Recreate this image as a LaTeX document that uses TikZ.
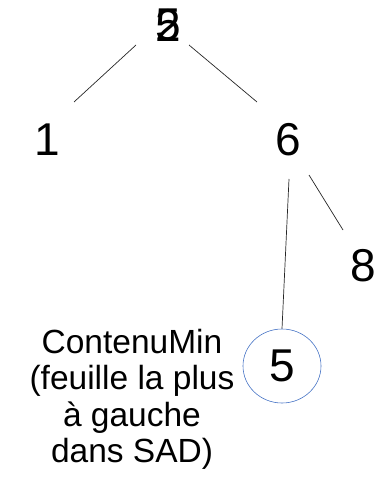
\documentclass[tikz,border=0pt]{standalone}
\usepackage{fontspec}
\setmainfont{Liberation Sans}
\usetikzlibrary{shapes.geometric}
\definecolor{ringblue}{HTML}{4472C4}
\begin{document}
\begin{tikzpicture}[x=1pt,y=-1pt,
  key/.style={inner sep=0pt,font=\fontsize{46}{50}\selectfont},
  edge/.style={line width=0.7pt,black!85},
  note/.style={inner sep=0pt,align=center,font=\fontsize{33.5}{36.5}\selectfont}]
\useasboundingbox (0,0) rectangle (376,478);
% keys of the tree
\node[key] (r5) at (168,25) {5};
\node[key] (r2) at (168,25) {2};
\node[key] (n1) at (47,140) {1};
\node[key] (n6) at (288,140) {6};
\node[key] (n8) at (363,266) {8};
\node[key,ellipse,draw=ringblue,line width=0.6pt,minimum width=78pt,minimum height=74pt] (n5) at (282,366) {5};
% label of the leftmost leaf
\node[note,anchor=north] (lbl) at (132,329) {ContenuMin\\(feuille la plus\\à gauche\\dans SAD)};
% branches
\draw[edge] ([shift={(-32,20)}]r5.center) -- ([shift={(27,-38)}]n1.center);
\draw[edge] ([shift={(21,20)}]r5.center) -- ([shift={(-31,-38)}]n6.center);
\draw[edge] ([shift={(1,39)}]n6.center) -- (n5.north);
\draw[edge] ([shift={(21,35)}]n6.center) -- ([shift={(-20,-36)}]n8.center);
\end{tikzpicture}
\end{document}
